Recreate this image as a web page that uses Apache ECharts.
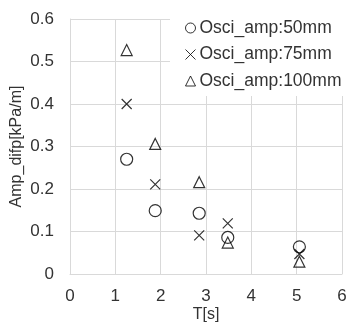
<!DOCTYPE html>
<html><head><meta charset="utf-8">
<script src="https://cdn.jsdelivr.net/npm/echarts@6/dist/echarts.min.js"></script>
<style>html,body{margin:0;padding:0;background:#fff}#c{width:348px;height:324px}</style>
</head><body><div id="c"></div>
<script>
const periods = [1.25, 1.88, 2.85, 3.48, 5.06];
const amp50 = [0.27, 0.149, 0.143, 0.086, 0.064];
const amp75 = [0.40, 0.211, 0.091, 0.119, 0.047];
const amp100 = [0.527, 0.306, 0.216, 0.074, 0.029];
const seriesNames = ['Osci_amp:50mm', 'Osci_amp:75mm', 'Osci_amp:100mm'];
const xTicks = [0, 1, 2, 3, 4, 5, 6];
const yTicks = [0, 0.1, 0.2, 0.3, 0.4, 0.5, 0.6];

const font = 'Liberation Sans, Arial, sans-serif';
const txt = '#333';
const gridCol = '#d9d9d9';
const pair = (xs, ys) => xs.map((x, i) => [x, ys[i]]);
const crossPath = 'path://M0,0L10,10M10,0L0,10';

const mk = (name, data, symbol, size) => ({
  name, type: 'scatter', data, symbol, symbolSize: size,
  itemStyle: { color: 'rgba(0,0,0,0)', borderColor: '#000', borderWidth: 1.2 },
  emphasis: { disabled: true }
});

const chart = echarts.init(document.getElementById('c'), null, { renderer: 'canvas' });
chart.setOption({
  animation: false,
  backgroundColor: '#fff',
  textStyle: { fontFamily: font },
  grid: { left: 70, right: 6, top: 19, bottom: 50, containLabel: false, outerBoundsMode: 'none' },
  xAxis: {
    type: 'value', min: xTicks[0], max: xTicks[xTicks.length - 1], interval: 1,
    name: 'T[s]', nameLocation: 'middle', nameGap: 33, nameMoveOverlap: false,
    nameTextStyle: { fontSize: 16, color: txt, fontFamily: font },
    axisLine: { lineStyle: { color: gridCol } },
    axisTick: { show: false },
    axisLabel: { fontSize: 17, color: txt, margin: 14, fontFamily: font },
    splitLine: { lineStyle: { color: gridCol } }
  },
  yAxis: {
    type: 'value', min: yTicks[0], max: yTicks[yTicks.length - 1], interval: 0.1,
    name: 'Amp_difp[kPa/m]', nameLocation: 'middle', nameGap: 45, nameMoveOverlap: false,
    nameTextStyle: { fontSize: 16, color: txt, fontFamily: font },
    axisLine: { show: true, lineStyle: { color: gridCol } },
    axisTick: { show: false },
    axisLabel: { fontSize: 17, color: txt, margin: 16, fontFamily: font,
      formatter: v => String(Math.round(v * 10) / 10) },
    splitLine: { lineStyle: { color: gridCol } }
  },
  legend: {
    orient: 'vertical', left: 170, top: 11,
    padding: [8, 6, 6, 15], itemGap: 8.5, itemWidth: 10, itemHeight: 10,
    backgroundColor: '#fff',
    itemStyle: { borderWidth: 1 },
    textStyle: { fontSize: 17.5, color: txt, fontFamily: font, padding: [0, 0, 0, -1] },
    data: seriesNames
  },
  series: [
    mk(seriesNames[0], pair(periods, amp50), 'circle', 12),
    mk(seriesNames[1], pair(periods, amp75), crossPath, 10),
    mk(seriesNames[2], pair(periods, amp100), 'triangle', 11)
  ]
});
</script></body></html>
